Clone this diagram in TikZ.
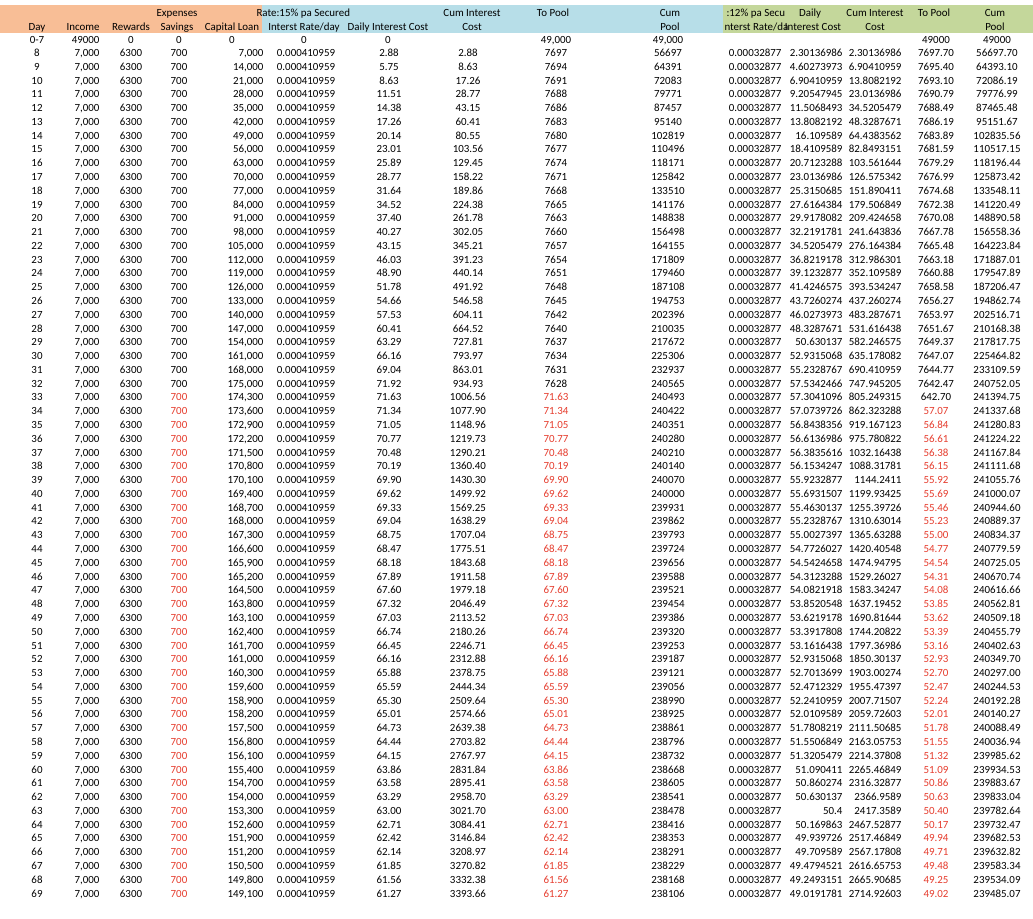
\documentclass[tikz,border=0pt]{standalone}
\usepackage{fontspec}
\setmainfont{Carlito}
\usepackage{siunitx}
\sisetup{mode=text, group-digits=none}
\definecolor{hdrorange}{RGB}{248,190,150}
\definecolor{hdrblue}{RGB}{183,222,232}
\definecolor{hdrgreen}{RGB}{196,215,155}
\definecolor{negred}{RGB}{230,60,45}
\newcommand\fixtwo[1]{\num[round-mode=places,round-precision=2]{#1}}
\newcommand\commanum[1]{\num[group-digits=integer,group-separator={,},group-minimum-digits=4]{#1}}
\newcommand\ninesig[1]{\fpeval{round(#1,9-(floor(ln(#1)/ln(10))+1))}}
\tikzset{every picture/.style={line width=0.75pt}}
\tikzset{cell/.style={inner sep=0pt,text height=5.2pt,text depth=0pt,font=\fontsize{8.2}{9}\selectfont},
  cellr/.style={cell,anchor=east},
  redcell/.style={cell,text=negred}}

\begin{document}
\begin{tikzpicture}[x=0.75pt,y=0.75pt,yscale=-1,xscale=1]
\useasboundingbox[fill=white] (0,0) rectangle (1033,919);

%Header bands
\fill[hdrorange] (0,5) rectangle (262,33);
\fill[hdrblue] (262,5) rectangle (723,33);
\fill[hdrgreen] (723,5) rectangle (1033,33);

% Header text, first line
\node[cell] (hExp) at (177,13) {Expenses};
\node[cell,anchor=west] (hRateL) at (256,13) {Rate:15\% pa Secured};
\node[cell] (hCumIL) at (472,13) {Cum Interest};
\node[cell] (hPoolL) at (553,13) {To Pool};
\node[cell] (hCumL) at (670,13) {Cum};
\node[cell,anchor=west] (hRateR) at (726,13) {:12\% pa Secu};
\node[cell] (hDailyR) at (810,13) {Daily};
\node[cell] (hCumIR) at (875,13) {Cum Interest};
\node[cell] (hPoolR) at (934,13) {To Pool};
\node[cell] (hCumR) at (995,13) {Cum};
% Header text, second line
\node[cell] (hDay) at (37,27) {Day};
\node[cellr] (hInc) at (100,27) {Income};
\node[cell] (hRew) at (131,27) {Rewards};
\node[cell] (hSav) at (177,27) {Savings};
\node[cell] (hCap) at (232,27) {Capital Loan};
\node[cell] (hRate) at (304,27) {Interst Rate/day};
\node[cell] (hDaily) at (388,27) {Daily Interest Cost};
\node[cell] (hCost) at (472,27) {Cost};
\node[cell] (hPool) at (670,27) {Pool};
\node[cell,anchor=west] (hRateR2) at (724,27) {nterst Rate/da};
\node[cell] (hDaily2) at (813,27) {Interest Cost};
\node[cell] (hCost2) at (875,27) {Cost};
\node[cell] (hPool2) at (995,27) {Pool};

% Opening row
\node[cell] (day0) at (37,40) {0-7};
\node[cellr] (inc0) at (100,40) {49000};
\node[cell] (rew0) at (131,40) {0};
\node[cell] (sav0) at (179,40) {0};
\node[cell] (cap0) at (232,40) {0};
\node[cell] (rate0) at (304,40) {0};
\node[cell] (int0) at (388,40) {0};
\node[cell] (poolL0) at (556,40) {49,000};
\node[cell] (cumL0) at (668,40) {49,000};
\node[cell] (poolR0) at (936,40) {49000};
\node[cell] (cumR0) at (997,40) {49000};

% Daily rows
\xdef\cumIL{0}\xdef\cumL{49000}\xdef\cumIR{0}\xdef\cumR{49000}
\foreach \d in {8,...,69}{
  \pgfmathsetmacro\ry{53+(\d-8)*13.78}
  \ifnum\d<33 \xdef\capl{\fpeval{7000*(\d-7)}}\else \xdef\capl{\fpeval{175000-700*(\d-32)}}\fi
  \xdef\iL{\fpeval{\capl*0.15/365}}
  \xdef\cumIL{\fpeval{\cumIL+\iL}}
  \xdef\iR{\fpeval{\capl*0.12/365}}
  \xdef\cumIR{\fpeval{\cumIR+\iR}}
  \node[cell] (day\d) at (37,\ry) {\d};
  \node[cellr] (inc\d) at (100,\ry) {7,000};
  \node[cell] (rew\d) at (131,\ry) {6300};
  \node[cellr] (cap\d) at (264,\ry) {\commanum{\capl}};
  \node[cell] (rate\d) at (306,\ry) {0.000410959};
  \node[cell] (int\d) at (389,\ry) {\fixtwo{\iL}};
  \node[cell] (cumI\d) at (468,\ry) {\fixtwo{\cumIL}};
  \node[cellr] (rateR\d) at (782,\ry) {0.00032877};
  \node[cellr] (intR\d) at (843,\ry) {\ninesig{\iR}};
  \node[cellr] (cumIR\d) at (902,\ry) {\ninesig{\cumIR}};
  \ifnum\d<33
    \xdef\pL{\fpeval{7700-\iL}}\xdef\cumL{\fpeval{\cumL+\pL}}
    \node[cell] (sav\d) at (179,\ry) {700};
    \node[cell] (poolL\d) at (556,\ry) {\fpeval{round(\pL)}};
  \else
    \xdef\cumL{\fpeval{\cumL-\iL}}
    \node[redcell] (sav\d) at (179,\ry) {700};
    \node[redcell] (poolL\d) at (556,\ry) {\fixtwo{\iL}};
  \fi
  \node[cell] (cumL\d) at (668,\ry) {\fpeval{round(\cumL)}};
  \ifnum\d<34
    \ifnum\d<33 \xdef\pR{\fpeval{7700-\iR}}\else \xdef\pR{\fpeval{700-\iR}}\fi
    \xdef\cumR{\fpeval{\cumR+\pR}}
    \node[cell] (poolR\d) at (936,\ry) {\fixtwo{\pR}};
  \else
    \xdef\cumR{\fpeval{\cumR-\iR}}
    \node[redcell] (poolR\d) at (936,\ry) {\fixtwo{\iR}};
  \fi
  \node[cell] (cumR\d) at (997,\ry) {\fixtwo{\cumR}};
}

\end{tikzpicture}
\end{document}
